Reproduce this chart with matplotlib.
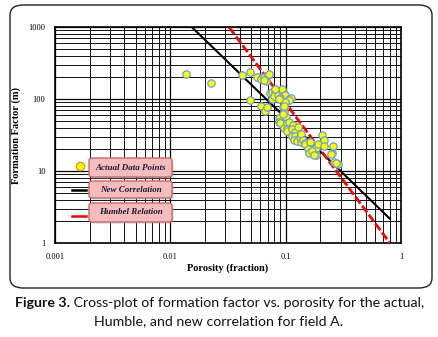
import numpy as np
import matplotlib
matplotlib.use("Agg")
import matplotlib.pyplot as plt
from matplotlib.patches import FancyBboxPatch
from matplotlib.lines import Line2D
from matplotlib.ticker import LogLocator, FixedLocator, FixedFormatter, NullFormatter

# ---- data ----
phi_actual = [0.0136, 0.0224,
              0.042, 0.049, 0.049, 0.056, 0.061, 0.065, 0.0675, 0.0706, 0.0717, 0.0655,
              0.073, 0.0755, 0.0755, 0.0815, 0.079, 0.086, 0.094, 0.0921, 0.081, 0.099, 0.089, 0.107, 0.111, 0.1066, 0.099, 0.087,
              0.061, 0.066, 0.069, 0.094, 0.097, 0.096, 0.088, 0.100,
              0.087, 0.0955, 0.089, 0.097, 0.102, 0.1037, 0.103, 0.107, 0.116, 0.113, 0.121, 0.129,
              0.113, 0.121, 0.117, 0.126, 0.137, 0.133, 0.137, 0.142, 0.146, 0.152, 0.148, 0.163, 0.165, 0.172, 0.180, 0.185, 0.192, 0.183,
              0.155, 0.160, 0.170, 0.175,
              0.207, 0.214, 0.215, 0.250, 0.245, 0.259, 0.260, 0.285, 0.275]
F_actual = [225, 167,
            215, 240, 96, 202, 188, 204, 176, 215, 220, 184,
            122, 126, 100, 126, 110, 114, 126, 137, 137, 114, 102, 99, 103, 97, 92, 101,
            80, 69, 78, 78, 65, 80, 54, 56,
            48, 62, 46, 40, 46, 38, 36.4, 48.5, 43.5, 38, 35, 41,
            30.6, 30.6, 27, 26.3, 25.4, 30, 32.5, 27, 24.4, 22.3, 24, 25.4, 20, 18.1, 17.7, 20.7, 23.5, 16.7,
            20, 18, 19, 16.5,
            31.6, 27, 22.4, 17.7, 17.3, 22.4, 13.4, 12.5, 13]

# correlation parameters F = a / phi^m
new_a, new_m = 1.54, 1.55
humble_a, humble_m = 0.62, 2.15
phi_new_range = [0.0153, 0.80]
phi_humble_range = [0.0325, 0.80]

x_ticks = [0.001, 0.01, 0.1, 1]
x_labels = ["0.001", "0.01", "0.1", "1"]
y_ticks = [1, 10, 100, 1000]
y_labels = ["1", "10", "100", "1000"]

legend_labels = ["Actual Data Points", "New Correlation", "Humbel Relation"]
x_title = "Porosity (fraction)"
y_title = "Formation Factor (m)"
caption_bold = "Figure 3."
caption_rest = " Cross-plot of formation factor vs. porosity for the actual,"
caption_line2 = "Humble, and new correlation for field A."

W, H = 438, 337
fig = plt.figure(figsize=(W / 100, H / 100), dpi=100)
fig.patch.set_facecolor("white")

# outer rounded frame
frame = FancyBboxPatch((10 / W, 1 - 288 / H), 422 / W, 283 / H,
                       boxstyle="round,pad=0,rounding_size=0.03",
                       transform=fig.transFigure, facecolor="none",
                       edgecolor="#222222", linewidth=1.0, zorder=-1)
fig.patches.append(frame)

ax = fig.add_axes([55 / W, 1 - 243 / H, 346 / W, 216 / H])
ax.set_zorder(1)
ax.set_xscale("log")
ax.set_yscale("log")
ax.set_xlim(0.001, 1)
ax.set_ylim(1, 1000)

ax.xaxis.set_major_locator(FixedLocator(x_ticks))
ax.xaxis.set_major_formatter(FixedFormatter(x_labels))
ax.yaxis.set_major_locator(FixedLocator(y_ticks))
ax.yaxis.set_major_formatter(FixedFormatter(y_labels))
ax.xaxis.set_minor_locator(LogLocator(base=10, subs=np.arange(2, 10)))
ax.yaxis.set_minor_locator(LogLocator(base=10, subs=np.arange(2, 10)))
ax.xaxis.set_minor_formatter(NullFormatter())
ax.yaxis.set_minor_formatter(NullFormatter())
ax.grid(True, which="major", color="black", linewidth=0.9)
ax.grid(True, which="minor", color="#111111", linewidth=0.7)
ax.tick_params(which="both", length=0, labelsize=6, pad=7)
for lab in ax.get_xticklabels() + ax.get_yticklabels():
    lab.set_family("Liberation Serif")
for s in ax.spines.values():
    s.set_color("black")
    s.set_linewidth(1.2)
ax.set_axisbelow(True)

# lines
pn = np.geomspace(phi_new_range[0], phi_new_range[1], 50)
ax.plot(pn, new_a / pn ** new_m, color="black", linewidth=1.5, zorder=3)
ph = np.geomspace(phi_humble_range[0], phi_humble_range[1], 50)
ax.plot(ph, humble_a / ph ** humble_m, color="#ff0000", linewidth=2.0,
        linestyle=(0, (3, 1)), zorder=3)

ax.scatter(phi_actual, F_actual, s=28, facecolor="#ffff00", edgecolor="#6a9fd0",
           linewidth=0.9, zorder=4)

ax.set_xlabel(x_title, family="Liberation Serif", fontweight="bold", fontsize=7.5, labelpad=2)
ax.set_ylabel(y_title, family="Liberation Serif", fontweight="bold", fontsize=7.5, labelpad=5)

# custom legend
boxes = [(158, 177), (181, 198), (203, 222)]
for (y0, y1), lab in zip(boxes, legend_labels):
    shadow = FancyBboxPatch((90.5 / W, 1 - (y1 + 1.5) / H), 83 / W, (y1 - y0) / H,
                            boxstyle="round,pad=0,rounding_size=0.008",
                            transform=fig.transFigure, facecolor="#9a9a9a",
                            edgecolor="none", alpha=0.5, zorder=4.9)
    fig.patches.append(shadow)
    p = FancyBboxPatch((89 / W, 1 - y1 / H), 83 / W, (y1 - y0) / H,
                       boxstyle="round,pad=0,rounding_size=0.008",
                       transform=fig.transFigure, facecolor="#f6bcbc",
                       edgecolor="#c46a6a", linewidth=1.0, zorder=5)
    fig.patches.append(p)
    fig.text(130.5 / W, 1 - (y0 + y1) / 2 / H, lab, ha="center", va="center",
             family="Liberation Serif", fontweight="bold", style="italic",
             fontsize=6.5, color="#1a1a3a", zorder=6)

fig.lines.append(Line2D([80 / W], [1 - 166 / H], marker="o", markersize=6,
                        markerfacecolor="#ffff00", markeredgecolor="#e0a000",
                        transform=fig.transFigure, zorder=6))
fig.lines.append(Line2D([72 / W, 86 / W], [1 - 189.5 / H] * 2, color="black",
                        linewidth=1.8, transform=fig.transFigure, zorder=6))
fig.lines.append(Line2D([72 / W, 86 / W], [1 - 216 / H] * 2, color="#ff0000",
                        linewidth=1.8, transform=fig.transFigure, zorder=6))

# caption
cap_fs = 10.2
t1 = fig.text(15 / W, 1 - 303 / H, caption_bold, ha="left", va="center",
              family="Lato", fontweight="bold", fontsize=cap_fs, color="#111111")
fig.canvas.draw()
bb = t1.get_window_extent()
fig.text(bb.x1 / fig.bbox.width, 1 - 303 / H, caption_rest, ha="left", va="center",
         family="Lato", fontsize=cap_fs, color="#111111")
fig.text(0.5, 1 - 321 / H, caption_line2, ha="center", va="center",
         family="Lato", fontsize=cap_fs, color="#111111")

fig.savefig("out.png", dpi=100)
